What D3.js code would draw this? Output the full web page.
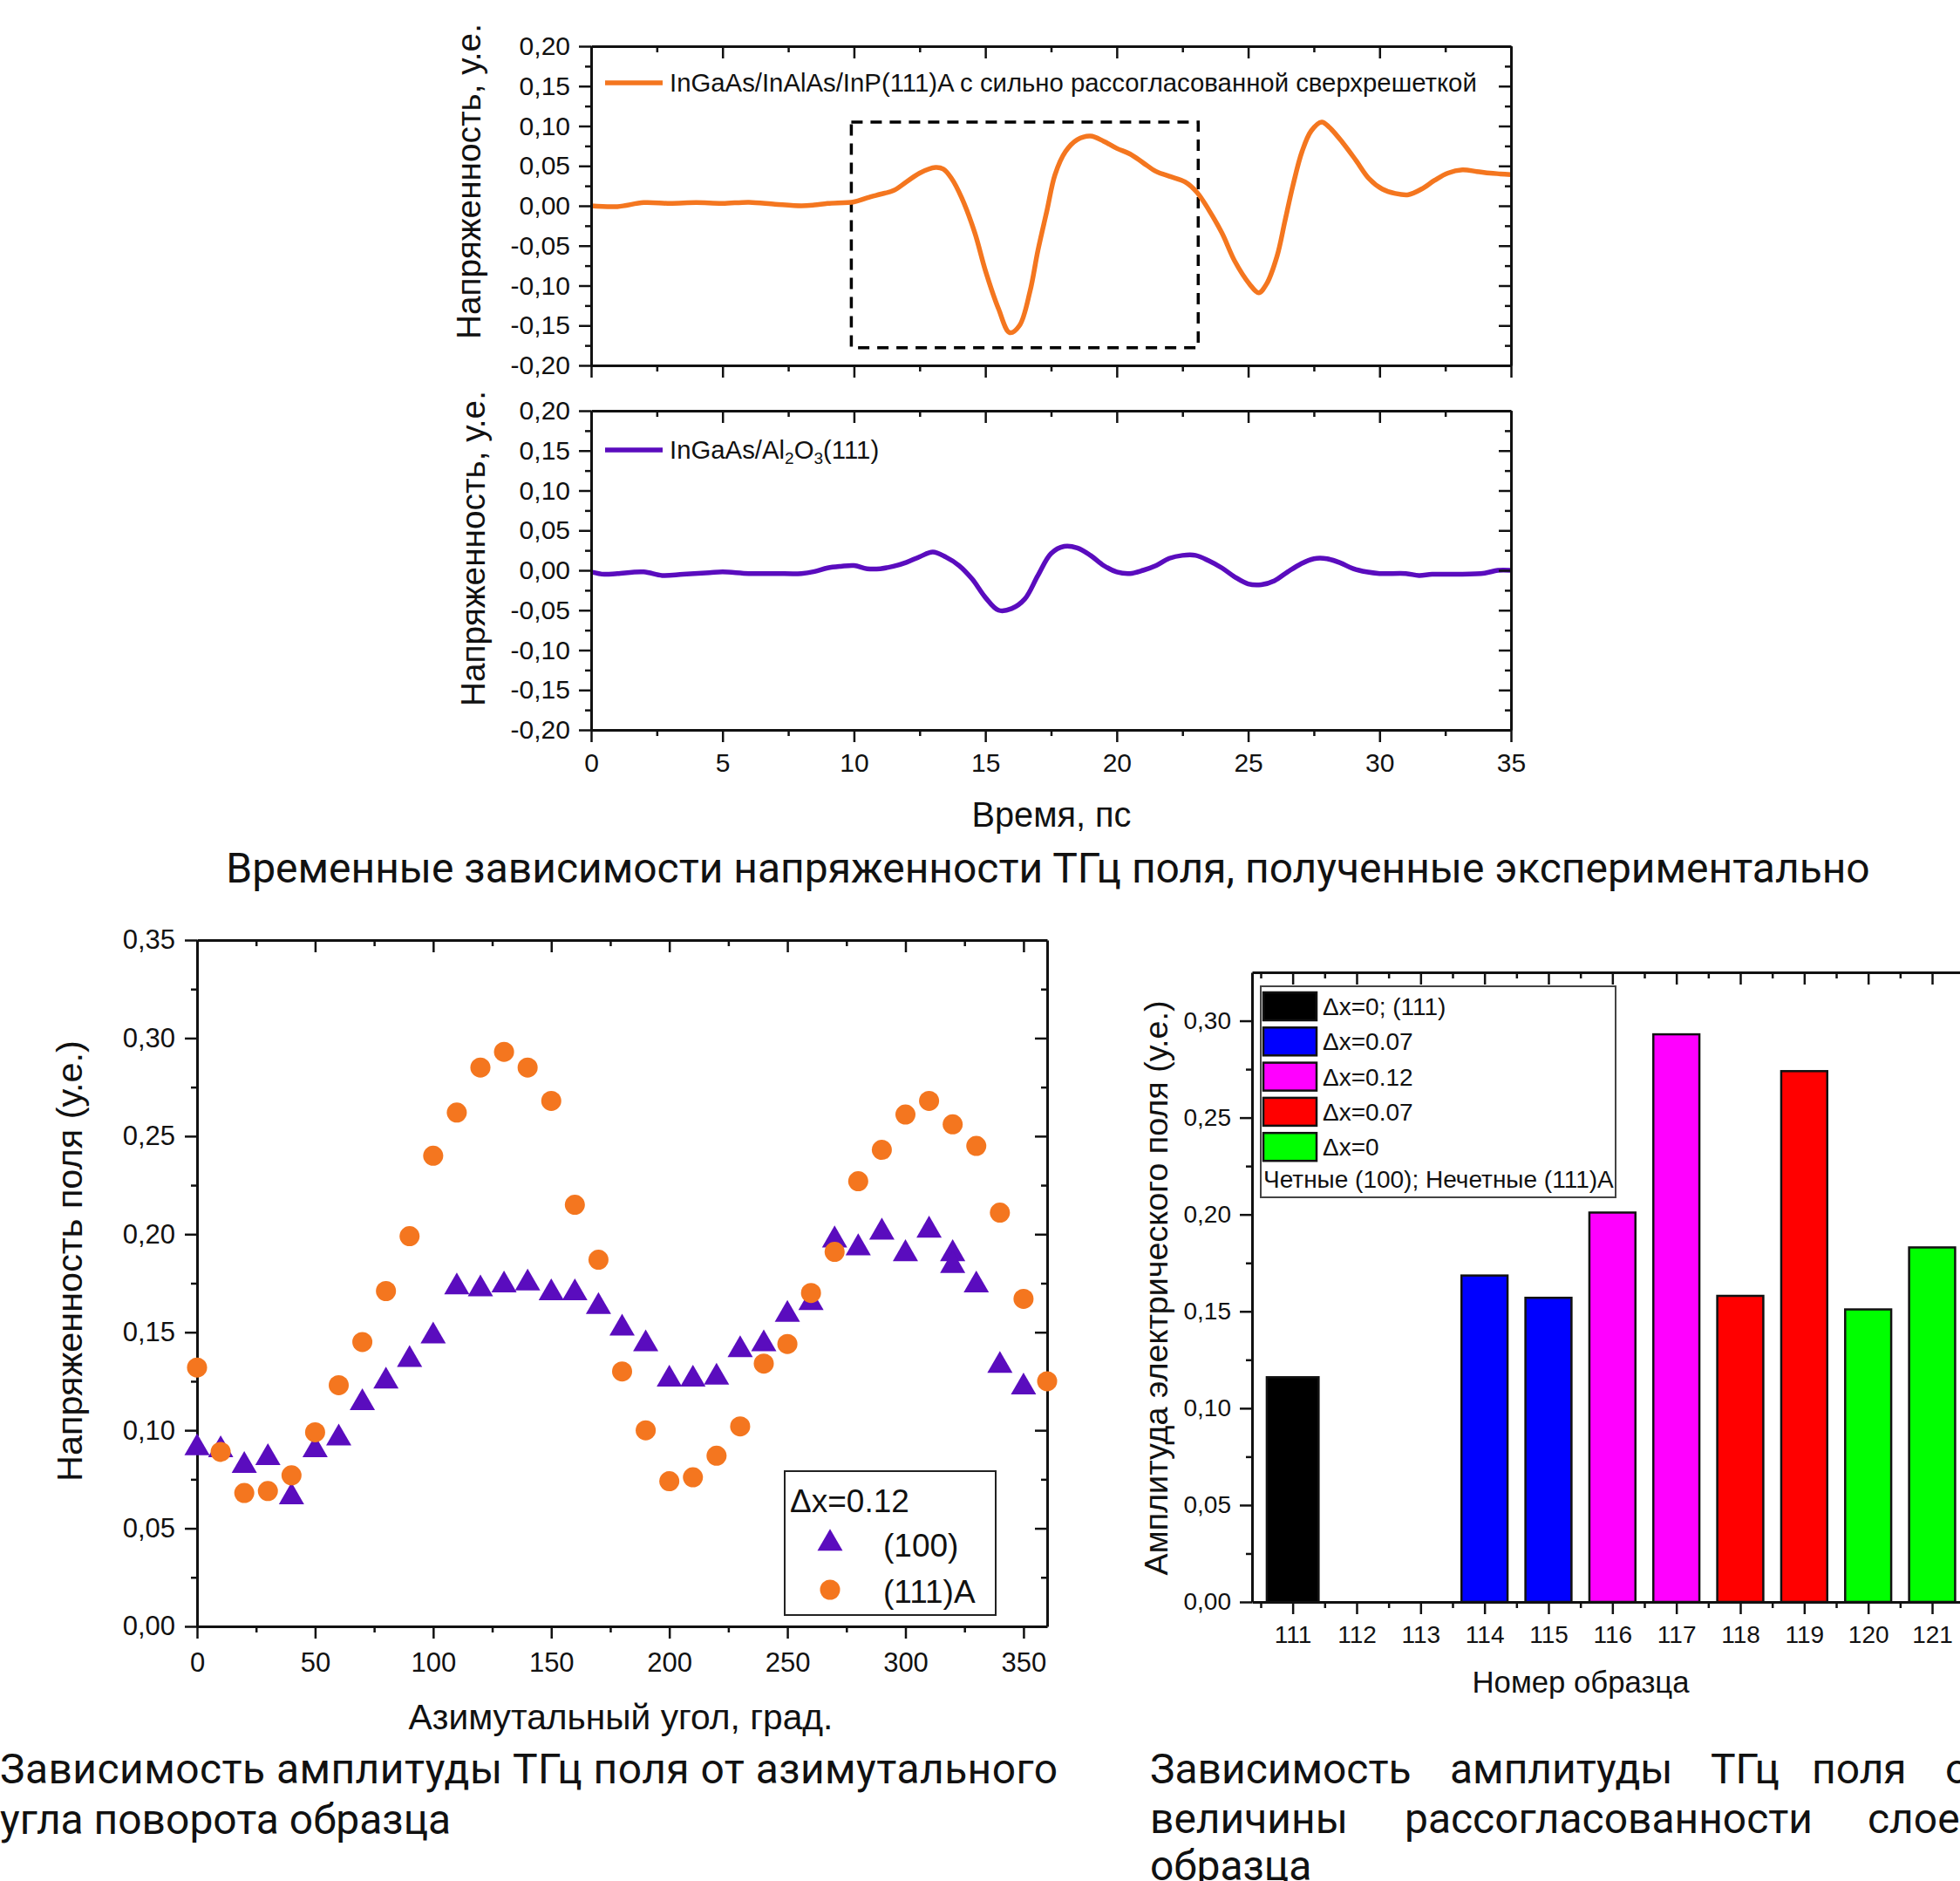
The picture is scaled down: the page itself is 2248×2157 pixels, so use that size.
<!DOCTYPE html>
<html>
<head>
<meta charset="utf-8">
<script src="https://cdn.jsdelivr.net/npm/d3@7"></script>
<style>
  body { margin: 0; background: #fff; }
  svg { display: block; }
</style>
</head>
<body>
<script>
// ---- data: time traces (ps, a.u.)
var timeA = [0,1,2,3,4,5,6,7,8,8.5,9,10,10.5,11,11.5,12,12.5,13.1,13.4,13.7,14.1,14.6,15,15.5,15.93,16.3,16.7,17,17.35,17.65,18.05,18.5,19,19.5,20,20.5,21,21.5,22,22.6,23.05,23.5,24,24.5,25.05,25.4,25.7,26.1,26.4,26.7,27.05,27.4,27.8,28.1,28.6,29.1,29.6,30.1,30.6,31.1,31.6,32.1,32.6,33.15,33.7,34.2,34.6,35];
var valA = [0,-0.001,0.004,0.003,0.004,0.003,0.0045,0.002,0,0.001,0.003,0.005,0.01,0.0145,0.019,0.03,0.041,0.048,0.046,0.035,0.01,-0.034,-0.081,-0.129,-0.159,-0.15,-0.107,-0.056,-0.005,0.039,0.068,0.083,0.0875,0.081,0.072,0.065,0.054,0.043,0.037,0.03,0.017,-0.005,-0.034,-0.07,-0.098,-0.109,-0.098,-0.063,-0.019,0.025,0.068,0.094,0.105,0.098,0.079,0.057,0.034,0.021,0.0155,0.014,0.021,0.032,0.041,0.045,0.043,0.041,0.04,0.039];

var timeB = [0,0.5,1,2,2.7,3.5,4.5,5,6,7,8,8.5,9,9.5,10,10.5,11,11.5,12,12.5,13,13.5,14,14.5,15,15.5,16,16.5,17,17.5,18,18.5,19,19.5,20,20.5,21,21.5,22,22.5,23,23.5,24,24.5,25,25.5,26,26.5,27,27.5,28,28.5,29,29.5,30,31,31.5,32,33,34,34.5,35];
var valB = [-0.002,-0.005,-0.004,-0.002,-0.0065,-0.005,-0.003,-0.002,-0.004,-0.004,-0.004,-0.0015,0.003,0.005,0.006,0.002,0.002,0.005,0.01,0.017,0.023,0.0165,0.006,-0.011,-0.034,-0.05,-0.048,-0.036,-0.0065,0.021,0.03,0.028,0.0187,0.006,-0.002,-0.004,0,0.006,0.015,0.0187,0.0187,0.012,0.003,-0.0085,-0.017,-0.018,-0.013,-0.002,0.008,0.0145,0.0145,0.0095,0.002,-0.002,-0.004,-0.004,-0.0065,-0.005,-0.005,-0.0035,0,0];

var boxT = [9.9, 23.1];
var boxV = [0.105, -0.178];

var timeTicks = [0,5,10,15,20,25,30,35];
var timeMinor = [2.5,7.5,12.5,17.5,22.5,27.5,32.5];
var fieldTicks = [-0.2,-0.15,-0.1,-0.05,0,0.05,0.1,0.15,0.2];
var fieldMinor = [-0.175,-0.125,-0.075,-0.025,0.025,0.075,0.125,0.175];

// ---- data: azimuthal dependence
var angC = [0,10,20,30,40,50,60,70,80,90,100,110,120,130,140,150,160,170,180,190,200,210,220,230,240,250,260,270,280,290,300,310,320,330,340,350,360];
var ampC = [0.132,0.089,0.068,0.069,0.077,0.099,0.123,0.145,0.171,0.199,0.240,0.262,0.285,0.293,0.285,0.268,0.215,0.187,0.130,0.100,0.074,0.076,0.087,0.102,0.134,0.144,0.170,0.191,0.227,0.243,0.261,0.268,0.256,0.245,0.211,0.167,0.125];
var angT = [0,10,20,30,40,50,60,70,80,90,100,110,120,130,140,150,160,170,180,190,200,210,220,230,240,250,260,270,280,290,300,310,320,320,330,340,350];
var ampT = [0.091,0.090,0.082,0.086,0.066,0.090,0.096,0.114,0.125,0.136,0.148,0.173,0.172,0.174,0.175,0.170,0.170,0.163,0.152,0.144,0.126,0.126,0.127,0.141,0.144,0.159,0.165,0.197,0.193,0.201,0.190,0.202,0.190,0.184,0.174,0.133,0.122];
var angTicks = [0,50,100,150,200,250,300,350];
var angMinor = [25,75,125,175,225,275,325];
var ampTicks = [0,0.05,0.1,0.15,0.2,0.25,0.3,0.35];
var ampMinor = [0.025,0.075,0.125,0.175,0.225,0.275,0.325];

// ---- data: amplitude per sample
var samples = [111,112,113,114,115,116,117,118,119,120,121];
var sampleAmp = [0.116,null,null,0.1685,0.157,0.201,0.293,0.158,0.274,0.151,0.183];
var sampleGroup = [0,null,null,1,1,2,2,3,3,4,4];
var groupLabels = ["Δx=0; (111)","Δx=0.07","Δx=0.12","Δx=0.07","Δx=0"];
var sampleTicks = [111,112,113,114,115,116,117,118,119,120,121,122];
var sampleMinor = [110.5,111.5,112.5,113.5,114.5,115.5,116.5,117.5,118.5,119.5,120.5,121.5];
var barTicks = [0,0.05,0.1,0.15,0.2,0.25,0.3];
var barMinor = [0.025,0.075,0.125,0.175,0.225,0.275];

// ---- styles
var ORANGE = '#f4761f', PURPLE = '#5a0cbe';
var groupColors = ['#000000','#0000ff','#ff00ff','#ff0000','#00ff00'];
var ORIGIN_FONT = 'Liberation Sans, Arial, sans-serif';
var CAP_FONT = 'Roboto, sans-serif';

var svg = d3.select('body').append('svg')
  .attr('width', 2248)
  .attr('height', 2157);

function fmt2(v) {
  return (v < 0 ? '-' : '') + Math.abs(v).toFixed(2).replace('.', ',');
}

function fitWidth(sel, target) {
  var len = sel.node().getComputedTextLength();
  var fs = parseFloat(sel.attr('font-size'));
  sel.attr('font-size', fs * target / len);
  return fs * target / len;
}

function styleAxis(g, fs) {
  g.selectAll('.domain').attr('stroke', '#111').attr('stroke-width', 3);
  g.selectAll('.tick line').attr('stroke', '#111').attr('stroke-width', 2.5);
  g.selectAll('.tick text').attr('fill', '#111')
    .attr('font-family', ORIGIN_FONT).attr('font-size', fs);
  g.attr('font-size', null).attr('font-family', null);
}

// four-sided Origin style frame
function frame(x, y, opt) {
  var xr = x.range(), yr = y.range();
  var x0 = xr[0], x1 = xr[1], yb = yr[0], yt = yr[1];
  var g = svg.append('g');
  var none = function() { return ''; };

  // bottom
  var b = g.append('g').attr('transform', 'translate(0,' + yb + ')')
    .call(d3.axisBottom(x).tickValues(opt.xMaj).tickSize(14).tickSizeOuter(0)
      .tickPadding(opt.xPad).tickFormat(opt.xLabels ? opt.xFmt : none));
  styleAxis(b, opt.fs);
  var bm = g.append('g').attr('transform', 'translate(0,' + yb + ')')
    .call(d3.axisBottom(x).tickValues(opt.xMin).tickSize(7).tickFormat(none));
  bm.select('.domain').remove(); styleAxis(bm, opt.fs);
  // top, ticks pointing inside
  var t = g.append('g').attr('transform', 'translate(0,' + yt + ')')
    .call(d3.axisBottom(x).tickValues(opt.xMaj).tickSize(14).tickSizeOuter(0).tickFormat(none));
  styleAxis(t, opt.fs);
  var tm = g.append('g').attr('transform', 'translate(0,' + yt + ')')
    .call(d3.axisBottom(x).tickValues(opt.xMin).tickSize(7).tickFormat(none));
  tm.select('.domain').remove(); styleAxis(tm, opt.fs);
  // left
  var l = g.append('g').attr('transform', 'translate(' + x0 + ',0)')
    .call(d3.axisLeft(y).tickValues(opt.yMaj).tickSize(14).tickSizeOuter(0)
      .tickPadding(opt.yPad).tickFormat(fmt2));
  styleAxis(l, opt.fs);
  var lm = g.append('g').attr('transform', 'translate(' + x0 + ',0)')
    .call(d3.axisLeft(y).tickValues(opt.yMin).tickSize(7).tickFormat(none));
  lm.select('.domain').remove(); styleAxis(lm, opt.fs);
  // right, ticks pointing inside
  var r = g.append('g').attr('transform', 'translate(' + x1 + ',0)')
    .call(d3.axisLeft(y).tickValues(opt.yMaj).tickSize(14).tickSizeOuter(0).tickFormat(none));
  styleAxis(r, opt.fs);
  var rm = g.append('g').attr('transform', 'translate(' + x1 + ',0)')
    .call(d3.axisLeft(y).tickValues(opt.yMin).tickSize(7).tickFormat(none));
  rm.select('.domain').remove(); styleAxis(rm, opt.fs);
  return g;
}

function label(x, y, txt, fs, rot, family, anchor) {
  var t = svg.append('text')
    .attr('font-family', family || ORIGIN_FONT)
    .attr('font-size', fs)
    .attr('fill', '#111')
    .attr('text-anchor', anchor || 'middle')
    .attr('dy', '0.35em')
    .attr('transform', 'translate(' + x + ',' + y + ')' + (rot ? ' rotate(' + rot + ')' : ''))
    .text(txt);
  return t;
}

// ================= time traces =================
var xT = d3.scaleLinear().domain([0, 35]).range([678, 1733]);
var yTop = d3.scaleLinear().domain([-0.2, 0.2]).range([419, 53]);
var yBot = d3.scaleLinear().domain([-0.2, 0.2]).range([837, 471]);

var lineTop = d3.line().x(function(d, i) { return xT(timeA[i]); })
  .y(function(d) { return yTop(d); }).curve(d3.curveCatmullRom.alpha(0.5));
var lineBot = d3.line().x(function(d, i) { return xT(timeB[i]); })
  .y(function(d) { return yBot(d); }).curve(d3.curveCatmullRom.alpha(0.5));

// dashed region
svg.append('rect')
  .attr('x', xT(boxT[0])).attr('y', yTop(boxV[0]))
  .attr('width', xT(boxT[1]) - xT(boxT[0]))
  .attr('height', yTop(boxV[1]) - yTop(boxV[0]))
  .attr('fill', 'none').attr('stroke', '#000')
  .attr('stroke-width', 3.5).attr('stroke-dasharray', '13,9');

svg.append('path').datum(valA).attr('d', lineTop)
  .attr('fill', 'none').attr('stroke', ORANGE).attr('stroke-width', 5.5)
  .attr('stroke-linejoin', 'round');
svg.append('path').datum(valB).attr('d', lineBot)
  .attr('fill', 'none').attr('stroke', PURPLE).attr('stroke-width', 5.5)
  .attr('stroke-linejoin', 'round');

frame(xT, yTop, { xMaj: timeTicks, xMin: timeMinor, yMaj: fieldTicks, yMin: fieldMinor,
  xLabels: false, fs: 30, xPad: 12, yPad: 10 });
frame(xT, yBot, { xMaj: timeTicks, xMin: timeMinor, yMaj: fieldTicks, yMin: fieldMinor,
  xLabels: true, xFmt: d3.format('d'), fs: 30, xPad: 13, yPad: 10 });

// legends
svg.append('line').attr('x1', 694).attr('x2', 760).attr('y1', 95).attr('y2', 95)
  .attr('stroke', ORANGE).attr('stroke-width', 5.5);
var lg1 = svg.append('text').attr('x', 768).attr('y', 105)
  .attr('font-family', ORIGIN_FONT).attr('font-size', 28).attr('fill', '#111')
  .text('InGaAs/InAlAs/InP(111)A с сильно рассогласованной сверхрешеткой');
var legFs = fitWidth(lg1, 926);

svg.append('line').attr('x1', 694).attr('x2', 760).attr('y1', 516).attr('y2', 516)
  .attr('stroke', PURPLE).attr('stroke-width', 5.5);
var lg2 = svg.append('text').attr('x', 768).attr('y', 526)
  .attr('font-family', ORIGIN_FONT).attr('font-size', legFs).attr('fill', '#111');
lg2.append('tspan').text('InGaAs/Al');
lg2.append('tspan').attr('font-size', legFs * 0.65).attr('dy', 6).text('2');
lg2.append('tspan').attr('dy', -6).text('O');
lg2.append('tspan').attr('font-size', legFs * 0.65).attr('dy', 6).text('3');
lg2.append('tspan').attr('dy', -6).text('(111)');

fitWidth(label(537, 208, 'Напряженность, у.е.', 34, -90), 362);
fitWidth(label(542, 629, 'Напряженность, у.е.', 34, -90), 362);
fitWidth(label(1206, 934, 'Время, пс', 34), 183);

var capTop = label(1202, 995, 'Временные зависимости напряженности ТГц поля, полученные экспериментально', 46, 0, CAP_FONT);
var capFs = fitWidth(capTop, 1886);

// ================= azimuthal scatter =================
var xA = d3.scaleLinear().domain([0, 360]).range([226, 1201]);
var yA = d3.scaleLinear().domain([0, 0.35]).range([1865, 1078]);

frame(xA, yA, { xMaj: angTicks, xMin: angMinor, yMaj: ampTicks, yMin: ampMinor,
  xLabels: true, xFmt: d3.format('d'), fs: 31, xPad: 16, yPad: 11 });

var tri = d3.symbol().type(d3.symbolTriangle).size(364);
svg.append('g').selectAll('path')
  .data(ampT)
  .enter()
  .append('path')
  .attr('d', tri)
  .attr('fill', PURPLE)
  .attr('transform', function(d, i) {
    return 'translate(' + xA(angT[i]) + ',' + yA(d) + ')';
  });

svg.append('g').selectAll('circle')
  .data(ampC)
  .enter()
  .append('circle')
  .attr('cx', function(d, i) { return xA(angC[i]); })
  .attr('cy', function(d) { return yA(d); })
  .attr('r', 11.5)
  .attr('fill', ORANGE);

// legend
svg.append('rect').attr('x', 900).attr('y', 1687).attr('width', 242).attr('height', 165)
  .attr('fill', '#fff').attr('stroke', '#222').attr('stroke-width', 2);
svg.append('text').attr('x', 906).attr('y', 1734).attr('font-family', ORIGIN_FONT)
  .attr('font-size', 37).attr('fill', '#111').text('Δx=0.12');
svg.append('path').attr('d', tri).attr('fill', PURPLE).attr('transform', 'translate(952,1770)');
svg.append('circle').attr('cx', 952).attr('cy', 1823).attr('r', 11.5).attr('fill', ORANGE);
svg.append('text').attr('x', 1013).attr('y', 1785).attr('font-family', ORIGIN_FONT)
  .attr('font-size', 37).attr('fill', '#111').text('(100)');
svg.append('text').attr('x', 1013).attr('y', 1838).attr('font-family', ORIGIN_FONT)
  .attr('font-size', 37).attr('fill', '#111').text('(111)A');

fitWidth(label(79, 1446, 'Напряженность поля (у.е.)', 34, -90), 506);
fitWidth(label(712, 1969, 'Азимутальный угол, град.', 34), 487);

svg.append('text').attr('x', 0).attr('y', 2045).attr('font-family', CAP_FONT)
  .attr('font-size', capFs).attr('fill', '#111')
  .attr('textLength', 1213).attr('lengthAdjust', 'spacing')
  .text('Зависимость амплитуды ТГц поля от азимутального');
svg.append('text').attr('x', 0).attr('y', 2103).attr('font-family', CAP_FONT)
  .attr('font-size', capFs).attr('fill', '#111')
  .text('угла поворота образца');

// ================= amplitude per sample =================
var xS = d3.scaleLinear().domain([110.364, 122.636]).range([1436, 2336]);
var yS = d3.scaleLinear().domain([0, 0.325]).range([1837, 1115]);

svg.append('g').selectAll('rect')
  .data(sampleAmp)
  .enter()
  .filter(function(d) { return d !== null; })
  .append('rect')
  .attr('x', function(d) {
    var j = sampleAmp.indexOf(d);
    var f = sampleGroup[j] === 0 ? 0.405 : 0.36;
    return xS(samples[j] - f);
  })
  .attr('width', function(d) {
    var j = sampleAmp.indexOf(d);
    var f = sampleGroup[j] === 0 ? 0.405 : 0.36;
    return xS(samples[j] + f) - xS(samples[j] - f);
  })
  .attr('y', function(d) { return yS(d); })
  .attr('height', function(d) { return yS(0) - yS(d); })
  .attr('fill', function(d) { return groupColors[sampleGroup[sampleAmp.indexOf(d)]]; })
  .attr('stroke', '#111').attr('stroke-width', 2.5);

// the frame runs past the right page edge, so the last label stays empty
frame(xS, yS, { xMaj: sampleTicks, xMin: sampleMinor, yMaj: barTicks, yMin: barMinor,
  xLabels: true, xFmt: function(d) { return d > 121 ? '' : d; }, fs: 28, xPad: 13, yPad: 10 });

// legend
svg.append('rect').attr('x', 1446).attr('y', 1131).attr('width', 407).attr('height', 242)
  .attr('fill', '#fff').attr('stroke', '#444').attr('stroke-width', 2);
var legRows = svg.append('g').selectAll('g')
  .data(groupLabels)
  .enter()
  .append('g')
  .attr('transform', function(d, i) { return 'translate(0,' + (1154 + i * 40.3) + ')'; });
legRows.append('rect').attr('x', 1449).attr('y', -16).attr('width', 61).attr('height', 32)
  .attr('fill', function(d, i) { return groupColors[i]; })
  .attr('stroke', '#111').attr('stroke-width', 2.5);
legRows.append('text').attr('x', 1517).attr('y', 10).attr('font-family', ORIGIN_FONT)
  .attr('font-size', 28).attr('fill', '#111').text(function(d) { return d; });
svg.append('text').attr('x', 1449).attr('y', 1362).attr('font-family', ORIGIN_FONT)
  .attr('font-size', 28).attr('fill', '#111').text('Четные (100); Нечетные (111)А');

fitWidth(label(1326, 1477, 'Амплитуда электрического поля (у.е.)', 32, -90), 659);
fitWidth(label(1813, 1929, 'Номер образца', 30), 249);

// justified caption on the right, partly off the page as in the source
var capWords = [
  [['Зависимость', 1319], ['амплитуды', 1663], ['ТГц', 1962], ['поля', 2078], ['от', 2231]],
  [['величины', 1319], ['рассогласованности', 1611], ['слоев', 2142]],
  [['образца', 1319]]
];
var capY = [2045, 2102, 2156];
capWords.forEach(function(line, k) {
  line.forEach(function(w) {
    svg.append('text').attr('x', w[1]).attr('y', capY[k]).attr('font-family', CAP_FONT)
      .attr('font-size', capFs).attr('fill', '#111').text(w[0]);
  });
});
</script>
</body>
</html>
